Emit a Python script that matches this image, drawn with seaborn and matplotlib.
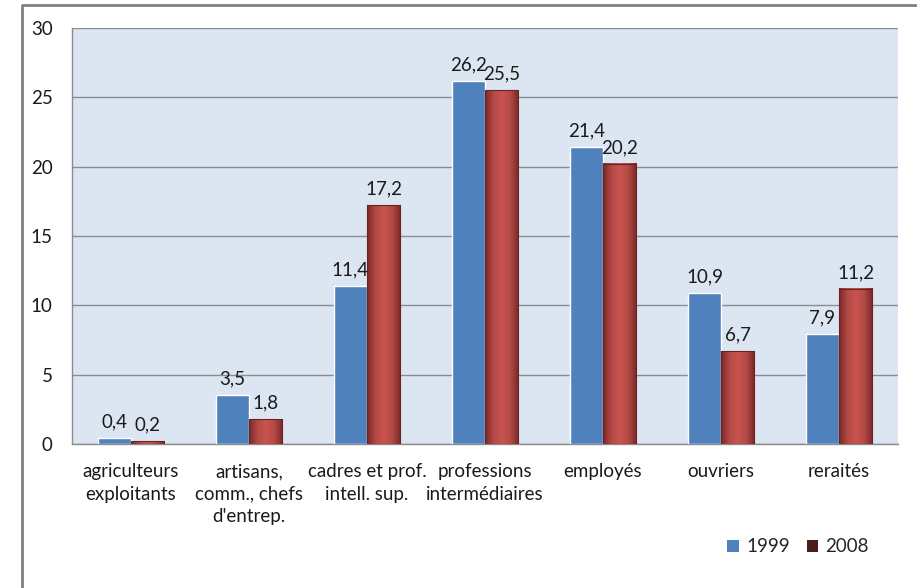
import numpy as np
import pandas as pd
import matplotlib
matplotlib.use("Agg")
import matplotlib.pyplot as plt
from matplotlib.lines import Line2D
from matplotlib.patches import Patch
from matplotlib.colors import LinearSegmentedColormap
import seaborn as sns

categories = ["agriculteurs\nexploitants", "artisans,\ncomm., chefs\nd'entrep.",
              "cadres et prof.\nintell. sup.", "professions\nintermédiaires",
              "employés", "ouvriers", "reraités"]
years = ["1999", "2008"]
values_1999 = [0.4, 3.5, 11.4, 26.2, 21.4, 10.9, 7.9]
values_2008 = [0.2, 1.8, 17.2, 25.5, 20.2, 6.7, 11.2]
y_ticks = [0, 5, 10, 15, 20, 25, 30]

sns.set_theme(style="white")
plt.rcParams["font.family"] = ["Lato", "DejaVu Sans"]
FS = 13.5

df = pd.DataFrame({
    "cat": categories * 2,
    "year": [years[0]] * len(categories) + [years[1]] * len(categories),
    "val": values_1999 + values_2008,
})

blue = "#4f81bd"
red = "#c0504d"
fig = plt.figure(figsize=(9.17, 5.88), dpi=100)
ax = fig.add_axes([72 / 917, 1 - 444 / 588, (898 - 72) / 917, (444 - 28) / 588])
ax.set_facecolor("#dce6f2")

sns.barplot(data=df, x="cat", y="val", hue="year", palette=[blue, red],
            width=0.56, gap=0, saturation=1, ax=ax, legend=False, zorder=3)

# shaded fill on the 2008 bars: darker at the edges, lighter in the middle
shade = LinearSegmentedColormap.from_list("shade", ["#7a2826", "#b44a47", "#c9534f", "#b44a47", "#7a2826"])
grad = np.linspace(0, 1, 64).reshape(1, -1)
n = len(categories)
for i, p in enumerate(ax.patches):
    if i >= n and p.get_height() > 0:
        x0, w, h = p.get_x(), p.get_width(), p.get_height()
        p.set_facecolor("none")
        ax.imshow(grad, cmap=shade, extent=[x0, x0 + w, 0, h], aspect="auto",
                  zorder=3, interpolation="bicubic")
        p.set_edgecolor("#6b2321")
        p.set_linewidth(0.8)
        p.set_zorder(4)

# value labels
for i, p in enumerate(ax.patches):
    v = (values_1999 + values_2008)[i]
    ax.text(p.get_x() + p.get_width() / 2, v + 0.55, f"{v:.1f}".replace(".", ","),
            ha="center", va="bottom", fontsize=FS, color="#1a1a1a", zorder=6)

ax.set_xlim(-0.5, n - 0.5)
ax.set_ylim(0, 30)
ax.set_yticks(y_ticks)
ax.set_yticklabels([str(t) for t in y_ticks], fontsize=FS, color="#1a1a1a")
ax.yaxis.grid(True, color="#8c8c8c", linewidth=1.0, zorder=0)
ax.set_axisbelow(True)
ax.set_xticks(range(n))
ax.set_xticklabels(categories, fontsize=FS, color="#1a1a1a", linespacing=1.38)
ax.tick_params(axis="x", length=0, pad=14)
ax.set_xticks(np.arange(-0.5, n, 1.0), minor=True)
ax.tick_params(axis="x", which="minor", length=7, width=1, color="#8c8c8c", direction="out")
ax.tick_params(axis="y", length=6, width=1, color="#8c8c8c", direction="out", pad=8)
ax.set_xlabel("")
ax.set_ylabel("")
for s in ["top", "right"]:
    ax.spines[s].set_visible(False)
ax.spines["left"].set_color("#8c8c8c")
ax.spines["bottom"].set_color("#8c8c8c")
ax.spines["left"].set_linewidth(1)
ax.spines["bottom"].set_linewidth(1)

# outer frame
fig.add_artist(Line2D([22 / 917, 22 / 917, 916 / 917], [0, 1 - 5 / 588, 1 - 5 / 588],
                      color="#808080", linewidth=2, transform=fig.transFigure))

handles = [Patch(facecolor=blue, edgecolor="none"), Patch(facecolor="#4a1c1c", edgecolor="none")]
fig.legend(handles, years, loc="center", bbox_to_anchor=(798 / 917, 1 - 547 / 588),
           ncol=2, frameon=False, fontsize=FS, handlelength=0.6, handleheight=0.6,
           columnspacing=0.9, handletextpad=0.4, borderpad=0)

fig.savefig("out.png", dpi=100)
